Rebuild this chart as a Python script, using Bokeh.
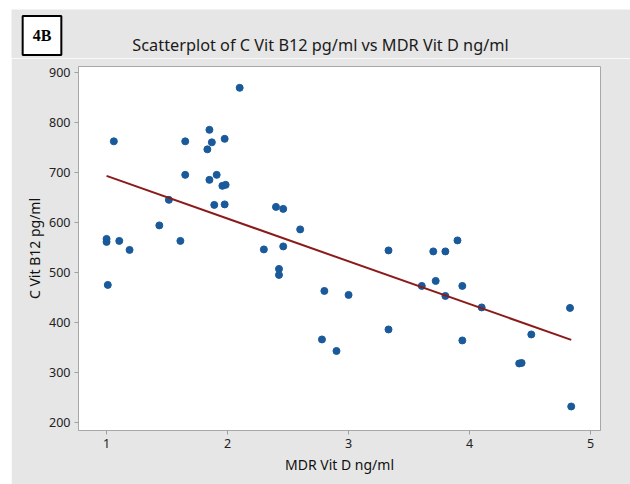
from bokeh.plotting import figure
from bokeh.layouts import column, row
from bokeh.models import Range1d, Label, FixedTicker, ColumnDataSource
from bokeh.embed import file_html
from bokeh.resources import INLINE

# Data
mdr_vit_d = [1.00, 1.00, 1.01, 1.06, 1.105, 1.19, 1.436, 1.515, 1.61, 1.65,
             1.65, 1.833, 1.85, 1.85, 1.87, 1.89, 1.91, 1.957, 1.976, 1.976,
             1.984, 2.10, 2.30, 2.40, 2.425, 2.425, 2.46, 2.46, 2.60, 2.78,
             2.80, 2.90, 3.00, 3.33, 3.33, 3.605, 3.70, 3.72, 3.80, 3.80,
             3.90, 3.94, 3.94, 4.10, 4.41, 4.43, 4.51, 4.83, 4.84]
c_vit_b12 = [568, 562, 476, 763, 564, 546, 595, 646, 564, 763,
             696, 747, 786, 686, 761, 636, 696, 674, 768, 637,
             676, 870, 547, 632, 508, 496, 553, 628, 587, 367,
             464, 344, 456, 545, 387, 474, 543, 484, 543, 454,
             565, 474, 365, 431, 319, 320, 377, 430, 233]
fit_intercept = 779.4
fit_slope = -85.4
x_ticks = [1, 2, 3, 4, 5]
y_ticks = [200, 300, 400, 500, 600, 700, 800, 900]
chart_title = "Scatterplot of C Vit B12 pg/ml vs MDR Vit D ng/ml"
panel_tag = "4B"

GRAY = "#e6e6e6"
FONT = "Noto Sans"

# Header strip holding the panel tag and the title
head = figure(width=619, height=49, output_backend="svg", toolbar_location=None,
              x_range=Range1d(0, 619), y_range=Range1d(0, 49),
              min_border=0, min_border_left=0, min_border_right=0,
              min_border_top=0, min_border_bottom=0)
head.axis.visible = False
head.grid.visible = False
head.outline_line_color = None
head.background_fill_color = GRAY
head.border_fill_color = GRAY
head.add_layout(Label(x=309, y=14, text=chart_title, text_font=FONT,
                      text_font_size="16.3px", text_color="#1a1a1a",
                      text_align="center", text_baseline="middle"))
head.add_layout(Label(x=30.5, y=23, text=panel_tag, text_font="Liberation Serif",
                      text_font_size="16px", text_font_style="bold",
                      text_color="black", text_align="center",
                      text_baseline="middle", background_fill_color="white",
                      border_line_color="black", border_line_width=2,
                      padding=(10, 11)))

p = figure(width=619, height=426, output_backend="svg", toolbar_location=None,
           x_range=Range1d(0.768, 5.082), y_range=Range1d(185, 912.6),
           min_border_left=67, min_border_top=8, min_border_right=30,
           min_border_bottom=54)
p.border_fill_color = GRAY
p.background_fill_color = "white"
p.outline_line_color = "#a8a8a8"
p.outline_line_width = 1
p.grid.visible = False

for ax in (p.xaxis[0], p.yaxis[0]):
    ax.axis_line_color = "#a8a8a8"
    ax.major_tick_line_color = "#a0a0a0"
    ax.major_tick_out = 4
    ax.major_tick_in = 0
    ax.minor_tick_line_color = None
    ax.major_label_text_font = FONT
    ax.major_label_text_font_size = "12.5px"
    ax.major_label_text_color = "#222222"
    ax.axis_label_text_font = FONT
    ax.axis_label_text_font_size = "14px"
    ax.axis_label_text_font_style = "normal"
    ax.axis_label_text_color = "#111111"

p.xaxis.ticker = FixedTicker(ticks=x_ticks)
p.yaxis.ticker = FixedTicker(ticks=y_ticks)
p.xaxis.axis_label = "MDR Vit D ng/ml"
p.yaxis.axis_label = "C Vit B12 pg/ml"
p.xaxis.major_label_standoff = 4
p.xaxis.axis_label_standoff = 4
p.yaxis.major_label_standoff = 4
p.yaxis.axis_label_standoff = 2

src = ColumnDataSource(dict(x=mdr_vit_d, y=c_vit_b12))
p.scatter("x", "y", source=src, size=7, color="#1a5a9a", line_color="#1a5a9a")

x0, x1 = min(mdr_vit_d), max(mdr_vit_d)
p.line([x0, x1], [fit_intercept + fit_slope * x0, fit_intercept + fit_slope * x1],
       line_color="#8b1a1a", line_width=2)

layout = column(row(head), p, spacing=0)
layout.margin = (9, 0, 0, 11)

open("out.html", "w").write(file_html(layout, INLINE))
